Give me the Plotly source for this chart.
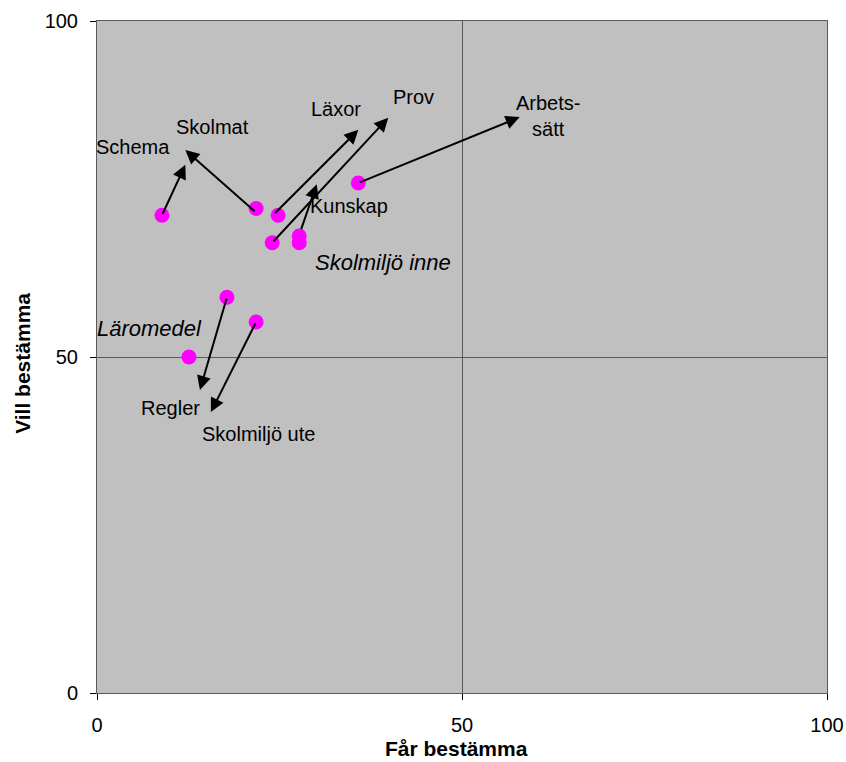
import plotly.graph_objects as go

# Data: points (start) and arrow tips (end)
names = ["Schema", "Skolmat", "Läxor", "Prov", "Kunskap", "Skolmiljö inne",
         "Arbetssätt", "Regler", "Skolmiljö ute", "Läromedel"]
far_x = [8.9, 21.8, 24.8, 24.0, 27.7, 27.7, 35.8, 17.8, 21.8, 12.6]
vill_y = [71.1, 72.1, 71.1, 67.0, 68.0, 67.0, 75.9, 58.9, 55.2, 50.0]

arrow_names = ["Schema", "Skolmat", "Läxor", "Prov", "Kunskap", "Arbetssätt", "Regler", "Skolmiljö ute"]
arrow_from_x = [8.9, 21.8, 24.2, 24.0, 27.9, 35.8, 17.8, 21.8]
arrow_from_y = [71.1, 71.5, 71.2, 67.0, 68.8, 75.9, 58.9, 55.2]
arrow_to_x = [12.1, 12.1, 35.8, 39.9, 30.1, 57.9, 14.1, 15.6]
arrow_to_y = [78.6, 80.8, 83.8, 85.6, 75.7, 85.7, 45.1, 41.8]

label_text = ["Schema", "Skolmat", "Läxor", "Prov", "Arbets-<br>sätt", "Kunskap",
              "<i>Skolmiljö inne</i>", "<i>Läromedel</i>", "Regler", "Skolmiljö ute"]
label_x = [4.9, 15.8, 32.7, 43.3, 61.8, 34.5, 39.2, 7.2, 10.0, 22.1]
label_y = [81.2, 84.3, 86.9, 88.7, 85.9, 72.5, 64.1, 54.3, 42.4, 38.6]
label_size = [20, 20, 20, 20, 20, 20, 22, 22, 20, 20]

x_ticks = [0, 50, 100]
y_ticks = [0, 50, 100]

font = "Liberation Sans, Arial, sans-serif"

fig = go.Figure()
fig.add_trace(go.Scatter(x=far_x, y=vill_y, mode="markers",
                         marker=dict(color="#FF00FF", size=15, line=dict(width=0)),
                         hoverinfo="text", text=names, showlegend=False))

annotations = []
for fx, fy, tx, ty in zip(arrow_from_x, arrow_from_y, arrow_to_x, arrow_to_y):
    annotations.append(dict(x=tx, y=ty, ax=fx, ay=fy, xref="x", yref="y",
                            axref="x", ayref="y", text="", showarrow=True,
                            arrowhead=2, arrowsize=1.4, arrowwidth=2,
                            arrowcolor="black", standoff=0, startstandoff=0))
for t, lx, ly, sz in zip(label_text, label_x, label_y, label_size):
    annotations.append(dict(x=lx, y=ly, xref="x", yref="y", text=t, showarrow=False,
                            font=dict(family=font, size=sz, color="black"),
                            xanchor="center", yanchor="middle"))

# axis titles
annotations.append(dict(x=0.493, y=-0.082, xref="paper", yref="paper",
                        text="<b>Får bestämma</b>", showarrow=False,
                        font=dict(family=font, size=21, color="black"),
                        xanchor="center", yanchor="middle"))
annotations.append(dict(x=-0.103, y=0.491, xref="paper", yref="paper",
                        text="<b>Vill bestämma</b>", showarrow=False, textangle=-90,
                        font=dict(family=font, size=21, color="black"),
                        xanchor="center", yanchor="middle"))

fig.update_layout(
    width=846, height=762,
    paper_bgcolor="white", plot_bgcolor="#C0C0C0",
    margin=dict(l=97, r=19, t=21, b=69),
    annotations=annotations,
    font=dict(family=font, size=20, color="black"),
    xaxis=dict(range=[0, 100], tickvals=x_ticks, ticktext=[str(v) for v in x_ticks],
               showgrid=True, gridcolor="#5A5A5A", gridwidth=1, automargin=False,
               zeroline=False, showline=True, linecolor="#5A5A5A", linewidth=1, mirror=True,
               ticks="outside", ticklen=6, tickcolor="black", ticklabelstandoff=8,
               tickfont=dict(size=20)),
    yaxis=dict(range=[0, 100], tickvals=y_ticks, ticktext=[str(v) for v in y_ticks],
               showgrid=True, gridcolor="#5A5A5A", gridwidth=1, automargin=False,
               zeroline=False, showline=True, linecolor="#5A5A5A", linewidth=1, mirror=True,
               ticks="outside", ticklen=6, tickcolor="black", ticklabelstandoff=8,
               tickfont=dict(size=20)),
)

fig.write_html("out.html", config={"displayModeBar": False},
               post_script="document.body.style.margin='0';document.body.style.overflow='hidden';")
